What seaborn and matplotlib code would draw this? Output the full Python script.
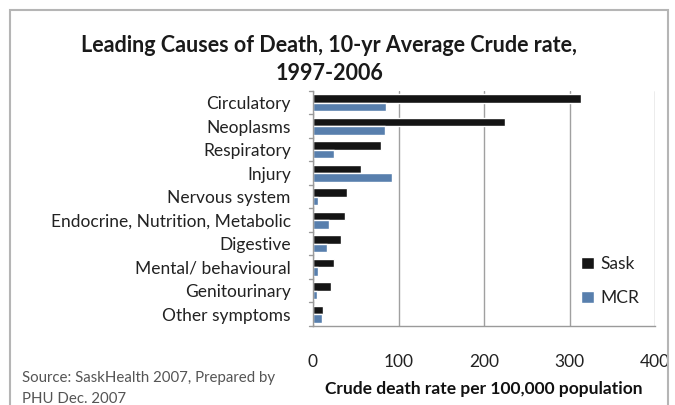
import matplotlib
matplotlib.use("Agg")
import matplotlib.pyplot as plt
from matplotlib.patches import FancyBboxPatch
import seaborn as sns
import pandas as pd

# Causes of death and 10-year average crude rates per 100,000
causes = ["Circulatory", "Neoplasms", "Respiratory", "Injury", "Nervous system",
          "Endocrine, Nutrition, Metabolic", "Digestive", "Mental/ behavioural",
          "Genitourinary", "Other symptoms"]
sask = [314, 224, 80, 56, 40, 37, 33, 24, 21, 12]
mcr = [85, 84, 25, 92, 6, 19, 16, 6, 5, 11]
series = ["Sask", "MCR"]
x_ticks = [0, 100, 200, 300, 400]

df = pd.DataFrame({
    "cause": causes * 2,
    "rate": sask + mcr,
    "region": [series[0]] * len(causes) + [series[1]] * len(causes),
})

sns.set_style("white")
plt.rcParams["font.family"] = ["Lato", "DejaVu Sans"]

fig = plt.figure(figsize=(6.75, 4.05), dpi=100)
ax = fig.add_axes([313 / 675, 1 - 326 / 405, (655 - 313) / 675, (326 - 91) / 405])

sns.barplot(data=df, y="cause", x="rate", hue="region", hue_order=series,
            palette={"Sask": "#141414", "MCR": "#4a7ebb"}, orient="h",
            width=0.74, ax=ax, errorbar=None, legend=True)

ax.set_xlim(0, 400)
ax.set_ylim(len(causes) - 0.5, -0.5)
ax.set_xticks(x_ticks)
ax.set_xticklabels([str(t) for t in x_ticks], fontsize=12.5, color="#222222")
ax.tick_params(axis="x", length=0, pad=20)
ax.tick_params(axis="y", length=0, pad=16, labelsize=12.5, labelcolor="#222222")
ax.set_ylabel("")
ax.set_xlabel("Crude death rate per 100,000 population", fontsize=12.5,
              fontweight="bold", color="#111111", labelpad=8)
ax.xaxis.grid(True, color="#a0a0a0", linewidth=1)
ax.set_axisbelow(True)
for side in ["top", "right"]:
    ax.spines[side].set_visible(False)
for side in ["left", "bottom"]:
    ax.spines[side].set_color("#9a9a9a")
    ax.spines[side].set_linewidth(1)

# small category separators on the left axis
for k in range(len(causes) + 1):
    ax.plot([-0.012, 0], [k - 0.5, k - 0.5], transform=ax.get_yaxis_transform(),
            color="#9a9a9a", linewidth=1, clip_on=False)

leg = ax.legend(loc="lower right", bbox_to_anchor=(1.0, 0.02), frameon=False,
                fontsize=12.5, handlelength=0.7, handleheight=0.7,
                handletextpad=0.4, labelspacing=1.0)
for t in leg.get_texts():
    t.set_color("#222222")

fig.text(0.488, 1 - 45 / 405, "Leading Causes of Death, 10-yr Average Crude rate,",
         ha="center", va="center", fontsize=15.5, fontweight="bold", color="#1a1a1a")
fig.text(0.488, 1 - 73 / 405, "1997-2006",
         ha="center", va="center", fontsize=15.5, fontweight="bold", color="#1a1a1a")

fig.text(22 / 675, 1 - 378 / 405, "Source: SaskHealth 2007, Prepared by",
         ha="left", va="center", fontsize=10.8, color="#555555")
fig.text(22 / 675, 1 - 399 / 405, "PHU Dec. 2007",
         ha="left", va="center", fontsize=10.8, color="#555555")

# chart frame
frame = FancyBboxPatch((10 / 675, -0.05), 658 / 675, 1 - 10 / 405 + 0.05,
                       boxstyle="square,pad=0", transform=fig.transFigure,
                       fill=False, edgecolor="#b5b5b5", linewidth=1.5)
fig.patches.append(frame)

fig.savefig("out.png", dpi=100)
